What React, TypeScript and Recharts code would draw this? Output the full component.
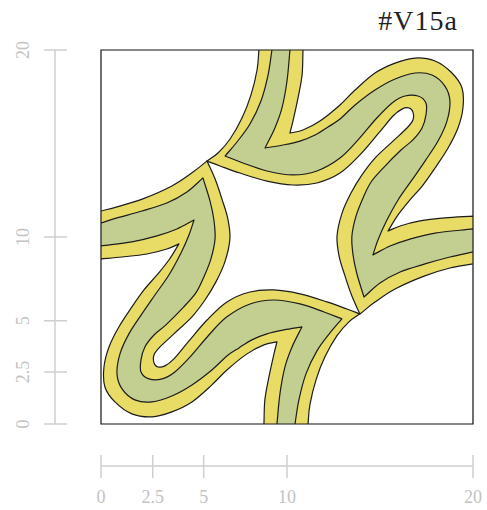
import * as React from "react"
import { ScatterChart, Scatter, XAxis, YAxis, ReferenceArea } from "recharts"

// axis ticks: where each tick sits on the 0-20 axis, and what it reads
const tickPositions = [0, 2.78, 5.52, 10, 20]
const tickLabels = ["0", "2.5", "5", "10", "20"]

// upper-right band (top edge -> right edge), outer outline
const band1Outline: [number, number][] = [
  [8.49, 20], [8.39, 18.93], [8.06, 17.59], [7.58, 16.36], [6.94, 15.24], [6.29, 14.49], [5.7, 14.06],
  [6.4, 13.8], [7.47, 13.42], [8.92, 12.99], [10.32, 12.78], [11.61, 12.89], [12.85, 13.42], [13.92, 14.39],
  [14.89, 15.51], [15.7, 16.47], [16.18, 16.84], [16.56, 16.9], [16.77, 16.68], [16.77, 16.26], [16.45, 15.83],
  [15.7, 15.13], [14.73, 14.22], [14.03, 13.32], [13.44, 12.35], [12.96, 11.28], [12.69, 10.05], [12.8, 8.98],
  [13.12, 7.91], [13.49, 6.84], [13.92, 5.88], [14.73, 6.52], [15.81, 7.22], [17.37, 7.91], [18.76, 8.34],
  [20, 8.56], [20, 11.12], [18.49, 11.02], [17.15, 10.86], [16.08, 10.59], [15.43, 10.32], [15.97, 11.18],
  [16.61, 11.98], [17.31, 12.78], [17.96, 13.69], [18.66, 14.76], [19.19, 15.83], [19.46, 16.9], [19.41, 17.97],
  [18.87, 18.77], [17.96, 19.41], [16.88, 19.57], [15.81, 19.3], [14.73, 18.77], [13.66, 17.86], [12.85, 17.06],
  [11.77, 16.2], [10.86, 15.72], [10.16, 15.56], [10.32, 16.2], [10.59, 17.43], [10.81, 18.66], [10.86, 20],
]

// upper-right band, green core
const band1Core: [number, number][] = [
  [9.19, 20], [8.98, 18.66], [8.6, 17.27], [8.01, 16.04], [7.31, 15.08], [6.67, 14.33], [7.63, 13.96],
  [8.92, 13.53], [10.32, 13.32], [11.61, 13.53], [12.85, 14.22], [13.82, 15.19], [14.78, 16.31], [15.65, 17.17],
  [16.34, 17.54], [17.04, 17.54], [17.47, 17.17], [17.47, 16.52], [17.26, 15.83], [16.77, 15.19], [16.13, 14.65],
  [15.22, 13.74], [14.52, 12.94], [14.09, 12.09], [13.71, 11.12], [13.49, 10.05], [13.55, 9.04], [13.76, 8.02],
  [14.14, 6.79], [15.0, 7.54], [16.08, 8.13], [17.42, 8.56], [18.76, 8.93], [20, 9.2], [20, 10.43],
  [17.96, 10.21], [16.61, 9.89], [15.54, 9.52], [14.62, 9.04], [14.89, 9.84], [15.32, 10.8], [15.97, 11.98],
  [16.72, 13.05], [17.42, 14.06], [18.12, 15.13], [18.6, 16.2], [18.76, 17.27], [18.49, 18.07], [17.8, 18.66],
  [16.88, 18.77], [15.81, 18.45], [14.73, 17.86], [13.66, 17.06], [12.85, 16.31], [12.2, 15.88], [11.51, 15.45],
  [10.7, 15.13], [9.78, 14.92], [8.82, 14.76], [9.35, 15.83], [9.73, 16.9], [10.0, 18.34], [10.16, 20],
]

// lower-left band (bottom edge -> left edge), outer outline
const band2Outline: [number, number][] = [
  [11.13, 0], [11.23, 1.02], [11.56, 2.36], [12.04, 3.59], [12.68, 4.71], [13.33, 5.46], [13.92, 5.89],
  [13.22, 6.15], [12.15, 6.53], [10.7, 6.96], [9.3, 7.17], [8.01, 7.06], [6.77, 6.53], [5.7, 5.56],
  [4.73, 4.44], [3.92, 3.48], [3.44, 3.11], [3.06, 3.05], [2.85, 3.27], [2.85, 3.69], [3.17, 4.12],
  [3.92, 4.82], [4.89, 5.73], [5.59, 6.63], [6.18, 7.6], [6.66, 8.67], [6.93, 9.9], [6.82, 10.97],
  [6.5, 12.04], [6.13, 13.11], [5.7, 14.07], [4.89, 13.43], [3.81, 12.73], [2.25, 12.04], [0.86, 11.61],
  [0, 11.39], [0, 8.83], [1.13, 8.93], [2.47, 9.09], [3.54, 9.36], [4.19, 9.63], [3.65, 8.77],
  [3.01, 7.97], [2.31, 7.17], [1.66, 6.26], [0.96, 5.19], [0.43, 4.12], [0.16, 3.05], [0.21, 1.98],
  [0.75, 1.18], [1.66, 0.54], [2.74, 0.38], [3.81, 0.65], [4.89, 1.18], [5.96, 2.09], [6.77, 2.89],
  [7.85, 3.75], [8.76, 4.23], [9.46, 4.39], [9.3, 3.75], [9.03, 2.52], [8.81, 1.29], [8.76, 0],
]

// lower-left band, green core
const band2Core: [number, number][] = [
  [10.43, 0], [10.64, 1.29], [11.02, 2.68], [11.61, 3.91], [12.31, 4.87], [12.95, 5.62], [11.99, 5.99],
  [10.7, 6.42], [9.3, 6.63], [8.01, 6.42], [6.77, 5.73], [5.8, 4.76], [4.84, 3.64], [3.97, 2.78],
  [3.28, 2.41], [2.58, 2.41], [2.15, 2.78], [2.15, 3.43], [2.36, 4.12], [2.85, 4.76], [3.49, 5.3],
  [4.4, 6.21], [5.1, 7.01], [5.53, 7.86], [5.91, 8.83], [6.13, 9.9], [6.07, 10.91], [5.86, 11.93],
  [5.48, 13.16], [4.62, 12.41], [3.54, 11.82], [2.2, 11.39], [0.86, 11.02], [0, 10.75], [0, 9.52],
  [1.66, 9.74], [3.01, 10.06], [4.08, 10.43], [5.0, 10.91], [4.73, 10.11], [4.3, 9.15], [3.65, 7.97],
  [2.9, 6.9], [2.2, 5.89], [1.5, 4.82], [1.02, 3.75], [0.86, 2.68], [1.13, 1.88], [1.82, 1.29],
  [2.74, 1.18], [3.81, 1.5], [4.89, 2.09], [5.96, 2.89], [6.77, 3.64], [7.42, 4.07], [8.11, 4.5],
  [8.92, 4.82], [9.84, 5.03], [10.8, 5.19], [10.27, 4.12], [9.89, 3.05], [9.62, 1.61], [9.46, 0],
]

const YELLOW = "#e9dc66"
const GREEN = "#c2cf91"
const OUTLINE = "#1c1c1c"
const AXIS_GREY = "#cfcfcf"
const LABEL_GREY = "#c2c2c2"
const FONT = '"Liberation Serif", "Times New Roman", serif'

const toRows = (pts: [number, number][]) => pts.map(([x, y]) => ({ x, y }))

// closed catmull-rom curve for recharts' Curve; sharp turns stay as corners
const smoothClosed = (context: any) => {
  let pts: [number, number][] = []
  return {
    areaStart() {},
    areaEnd() {},
    lineStart() {
      pts = []
    },
    point(x: number, y: number) {
      pts.push([+x, +y])
    },
    lineEnd() {
      const n = pts.length
      if (n < 3) return
      const at = (i: number) => pts[(i + n) % n]
      const isCorner = (i: number) => {
        const a = at(i - 1), b = at(i), c = at(i + 1)
        const ux = b[0] - a[0], uy = b[1] - a[1], vx = c[0] - b[0], vy = c[1] - b[1]
        const lu = Math.hypot(ux, uy), lv = Math.hypot(vx, vy)
        if (!lu || !lv) return true
        return (ux * vx + uy * vy) / (lu * lv) < 0.34
      }
      const corner = pts.map((_, i) => isCorner(i))
      context.moveTo(pts[0][0], pts[0][1])
      for (let i = 0; i < n; i++) {
        const p0 = at(i - 1), p1 = at(i), p2 = at(i + 1), p3 = at(i + 2)
        const t1 = corner[i] ? [(p2[0] - p1[0]) / 3, (p2[1] - p1[1]) / 3] : [(p2[0] - p0[0]) / 6, (p2[1] - p0[1]) / 6]
        const j = (i + 1) % n
        const t2 = corner[j] ? [(p2[0] - p1[0]) / 3, (p2[1] - p1[1]) / 3] : [(p3[0] - p1[0]) / 6, (p3[1] - p1[1]) / 6]
        context.bezierCurveTo(p1[0] + t1[0], p1[1] + t1[1], p2[0] - t2[0], p2[1] - t2[1], p2[0], p2[1])
      }
      context.closePath()
    },
  }
}

const NoDot = () => <g />

const XTick = (props: any) => {
  const { x, y, index } = props
  return (
    <g>
      <line x1={x} x2={x} y1={y - 11} y2={y + 12} stroke={AXIS_GREY} strokeWidth={1.5} />
      <text x={x} y={y + 37} textAnchor="middle" fill={LABEL_GREY} fontSize={18} fontFamily={FONT}>
        {tickLabels[index]}
      </text>
    </g>
  )
}

const YTick = (props: any) => {
  const { x, y, index } = props
  const lx = x - 26
  return (
    <g>
      <line x1={x - 11} x2={x + 12} y1={y} y2={y} stroke={AXIS_GREY} strokeWidth={1.5} />
      <text
        x={lx}
        y={y}
        transform={`rotate(-90, ${lx}, ${y})`}
        textAnchor="middle"
        fill={LABEL_GREY}
        fontSize={18}
        fontFamily={FONT}
      >
        {tickLabels[index]}
      </text>
    </g>
  )
}

const shapes = [
  { name: "band1", pts: band1Outline, fill: YELLOW },
  { name: "band1core", pts: band1Core, fill: GREEN },
  { name: "band2", pts: band2Outline, fill: YELLOW },
  { name: "band2core", pts: band2Core, fill: GREEN },
]

export default function App() {
  return (
    <div style={{ position: "absolute", left: 0, top: 0, width: 487, height: 510, background: "#fff" }}>
      <div
        style={{
          position: "absolute",
          right: 29,
          top: 5,
          fontFamily: FONT,
          fontSize: 28,
          lineHeight: "32px",
          color: "#222",
          letterSpacing: 1,
        }}
      >
        #V15a
      </div>
      <ScatterChart width={487} height={510} margin={{ top: 50, right: 14, bottom: 0, left: 0 }}>
        <XAxis
          xAxisId="data"
          dataKey="x"
          type="number"
          domain={[0, 20]}
          allowDataOverflow
          height={42}
          tick={false}
          tickLine={false}
          axisLine={false}
        />
        <XAxis
          xAxisId="deco"
          dataKey="x"
          type="number"
          domain={[0, 20]}
          ticks={tickPositions}
          interval={0}
          height={44}
          tickSize={0}
          tickMargin={0}
          tick={XTick}
          stroke={AXIS_GREY}
          axisLine={{ stroke: AXIS_GREY, strokeWidth: 1.5 }}
        />
        <YAxis
          yAxisId="data"
          dataKey="y"
          type="number"
          domain={[0, 20]}
          allowDataOverflow
          width={46}
          tick={false}
          tickLine={false}
          axisLine={false}
        />
        <YAxis
          yAxisId="deco"
          dataKey="y"
          type="number"
          domain={[0, 20]}
          ticks={tickPositions}
          interval={0}
          width={55}
          tickSize={0}
          tickMargin={0}
          tick={YTick}
          stroke={AXIS_GREY}
          axisLine={{ stroke: AXIS_GREY, strokeWidth: 1.5 }}
        />
        <Scatter
          name="ticks"
          xAxisId="deco"
          yAxisId="deco"
          data={tickPositions.map((t) => ({ x: t, y: t }))}
          isAnimationActive={false}
          shape={NoDot}
          legendType="none"
        />
        {shapes.map((s) => (
          <Scatter
            key={s.name}
            name={s.name}
            xAxisId="data"
            yAxisId="data"
            data={toRows(s.pts)}
            isAnimationActive={false}
            shape={NoDot}
            line={{ fill: s.fill, stroke: OUTLINE, strokeWidth: 1.2, strokeLinejoin: "round" }}
            lineJointType={smoothClosed as any}
            legendType="none"
          />
        ))}
        <ReferenceArea
          xAxisId="data"
          yAxisId="data"
          x1={0}
          x2={20}
          y1={0}
          y2={20}
          fill="none"
          stroke="#111"
          strokeWidth={1.2}
          ifOverflow="visible"
        />
      </ScatterChart>
    </div>
  )
}
